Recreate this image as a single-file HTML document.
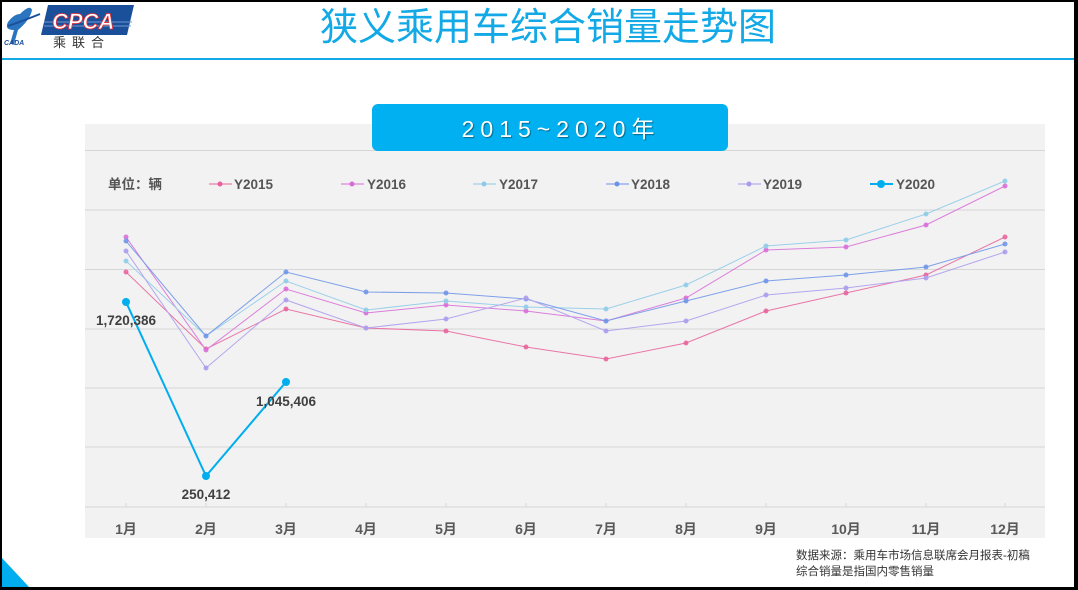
<!DOCTYPE html>
<html><head><meta charset="utf-8"><style>
html,body{margin:0;padding:0;background:#000;}
#p{position:relative;width:1072px;height:585px;left:2px;top:2px;background:#fff;overflow:hidden;font-family:"Liberation Sans","Noto Sans CJK SC",sans-serif;}
</style></head><body><div id="p">
<svg width="1072" height="585" viewBox="2 2 1072 585" xmlns="http://www.w3.org/2000/svg" style="position:absolute;left:0;top:0">
<path d="M20 14 Q30 4 32 10 Q30 20 18 30 L14 44 L10 44 L14 30 Q4 30 8 22 Q14 14 20 14Z" fill="#2a74c0"/>
<path d="M8 26 Q20 22 40 14" stroke="#1a4f9a" stroke-width="2" fill="none"/>
<text x="4" y="45" font-size="7" font-style="italic" font-weight="bold" fill="#1a4f9a">CADA</text>
<path d="M48 5 L134 5 L127 35 L41 35Z" fill="#1a4f9a"/>
<line x1="44" y1="22" x2="132" y2="22" stroke="#6f9ad0" stroke-width="1"/>
<line x1="44" y1="26" x2="131" y2="26" stroke="#6f9ad0" stroke-width="1"/>
<text x="52" y="29" font-size="22" font-style="italic" font-weight="bold" fill="#fff" stroke="#e0303a" stroke-width="0.8">CPCA</text>
<text x="53" y="47" font-size="13" fill="#333" letter-spacing="6">乘联合</text>
<text x="548" y="40" font-size="38" fill="#12a9e6" text-anchor="middle">狭义乘用车综合销量走势图</text>
<rect x="2" y="58" width="1072" height="2" fill="#12a9e6"/>
<rect x="85" y="124" width="960" height="414" fill="#f2f2f2"/>
<g stroke="#d6d6d6" stroke-width="1">
<line x1="85" x2="1045" y1="150.5" y2="150.5"/><line x1="85" x2="1045" y1="210" y2="210"/>
<line x1="85" x2="1045" y1="269.5" y2="269.5"/><line x1="85" x2="1045" y1="329" y2="329"/>
<line x1="85" x2="1045" y1="388" y2="388"/><line x1="85" x2="1045" y1="447" y2="447"/>
<line x1="85" x2="1045" y1="507" y2="507"/>
<path d="M126 507v-4M206 507v-4M286 507v-4M366 507v-4M446 507v-4M526 507v-4M606 507v-4M686 507v-4M766 507v-4M846 507v-4M926 507v-4M1005 507v-4"/>
</g>
<rect x="372" y="104" width="356" height="47" rx="6" fill="#00b0f0"/>
<text x="561" y="137" font-size="23" fill="#fff" text-anchor="middle" letter-spacing="6" style="text-shadow:1px 1px 1px rgba(0,0,0,0.4)">2015~2020年</text>
<g font-size="13.5" font-weight="bold" fill="#555">
<text x="108" y="189">单位：辆</text>
<text x="234" y="189">Y2015</text><text x="367" y="189">Y2016</text><text x="499" y="189">Y2017</text>
<text x="631" y="189">Y2018</text><text x="763" y="189">Y2019</text><text x="896" y="189">Y2020</text>
</g>
<g stroke-width="1">
<line x1="209" x2="232" y1="184" y2="184" stroke="#e8609a"/><circle cx="220" cy="184" r="2.5" fill="#e8609a"/>
<line x1="341" x2="364" y1="184" y2="184" stroke="#d86ad8"/><circle cx="352" cy="184" r="2.5" fill="#d86ad8"/>
<line x1="473" x2="496" y1="184" y2="184" stroke="#8ccbe8"/><circle cx="484" cy="184" r="2.5" fill="#8ccbe8"/>
<line x1="606" x2="629" y1="184" y2="184" stroke="#6a92e8"/><circle cx="617" cy="184" r="2.5" fill="#6a92e8"/>
<line x1="738" x2="761" y1="184" y2="184" stroke="#aa99ee"/><circle cx="749" cy="184" r="2.5" fill="#aa99ee"/>
<line x1="870" x2="893" y1="184" y2="184" stroke="#00aeef" stroke-width="2"/><circle cx="881" cy="184" r="4" fill="#00aeef"/>
</g>
<g fill="none" stroke-width="1" opacity="0.85">
<polyline stroke="#e8609a" points="126,272 206,349 286,309 366,328 446,331 526,347 606,359 686,343 766,311 846,293 926,275 1005,237"/>
<polyline stroke="#d86ad8" points="126,237 206,350 286,289 366,313 446,305 526,311 606,321 686,298 766,250 846,247 926,225 1005,186"/>
<polyline stroke="#8ccbe8" points="126,261 206,336 286,281 366,310 446,301 526,307 606,309 686,285 766,246 846,240 926,214 1005,181"/>
<polyline stroke="#6a92e8" points="126,241 206,336 286,272 366,292 446,293 526,299 606,321 686,301 766,281 846,275 926,267 1005,244"/>
<polyline stroke="#aa99ee" points="126,251 206,368 286,300 366,328 446,319 526,298 606,331 686,321 766,295 846,288 926,278 1005,252"/>
</g>
<g opacity="0.85">
<g fill="#e8609a"><circle cx="126" cy="272" r="2.5"/><circle cx="206" cy="349" r="2.5"/><circle cx="286" cy="309" r="2.5"/><circle cx="366" cy="328" r="2.5"/><circle cx="446" cy="331" r="2.5"/><circle cx="526" cy="347" r="2.5"/><circle cx="606" cy="359" r="2.5"/><circle cx="686" cy="343" r="2.5"/><circle cx="766" cy="311" r="2.5"/><circle cx="846" cy="293" r="2.5"/><circle cx="926" cy="275" r="2.5"/><circle cx="1005" cy="237" r="2.5"/></g>
<g fill="#d86ad8"><circle cx="126" cy="237" r="2.5"/><circle cx="206" cy="350" r="2.5"/><circle cx="286" cy="289" r="2.5"/><circle cx="366" cy="313" r="2.5"/><circle cx="446" cy="305" r="2.5"/><circle cx="526" cy="311" r="2.5"/><circle cx="606" cy="321" r="2.5"/><circle cx="686" cy="298" r="2.5"/><circle cx="766" cy="250" r="2.5"/><circle cx="846" cy="247" r="2.5"/><circle cx="926" cy="225" r="2.5"/><circle cx="1005" cy="186" r="2.5"/></g>
<g fill="#8ccbe8"><circle cx="126" cy="261" r="2.5"/><circle cx="206" cy="336" r="2.5"/><circle cx="286" cy="281" r="2.5"/><circle cx="366" cy="310" r="2.5"/><circle cx="446" cy="301" r="2.5"/><circle cx="526" cy="307" r="2.5"/><circle cx="606" cy="309" r="2.5"/><circle cx="686" cy="285" r="2.5"/><circle cx="766" cy="246" r="2.5"/><circle cx="846" cy="240" r="2.5"/><circle cx="926" cy="214" r="2.5"/><circle cx="1005" cy="181" r="2.5"/></g>
<g fill="#6a92e8"><circle cx="126" cy="241" r="2.5"/><circle cx="206" cy="336" r="2.5"/><circle cx="286" cy="272" r="2.5"/><circle cx="366" cy="292" r="2.5"/><circle cx="446" cy="293" r="2.5"/><circle cx="526" cy="299" r="2.5"/><circle cx="606" cy="321" r="2.5"/><circle cx="686" cy="301" r="2.5"/><circle cx="766" cy="281" r="2.5"/><circle cx="846" cy="275" r="2.5"/><circle cx="926" cy="267" r="2.5"/><circle cx="1005" cy="244" r="2.5"/></g>
<g fill="#aa99ee"><circle cx="126" cy="251" r="2.5"/><circle cx="206" cy="368" r="2.5"/><circle cx="286" cy="300" r="2.5"/><circle cx="366" cy="328" r="2.5"/><circle cx="446" cy="319" r="2.5"/><circle cx="526" cy="298" r="2.5"/><circle cx="606" cy="331" r="2.5"/><circle cx="686" cy="321" r="2.5"/><circle cx="766" cy="295" r="2.5"/><circle cx="846" cy="288" r="2.5"/><circle cx="926" cy="278" r="2.5"/><circle cx="1005" cy="252" r="2.5"/></g>
</g>
<polyline fill="none" stroke="#00aeef" stroke-width="2" points="126,302 206,476 286,382"/>
<g fill="#00aeef"><circle cx="126" cy="302" r="4"/><circle cx="206" cy="476" r="4"/><circle cx="286" cy="382" r="4"/></g>
<g font-size="13.5" font-weight="bold" fill="#404040" text-anchor="middle">
<text x="126" y="325">1,720,386</text><text x="206" y="499">250,412</text><text x="286" y="406">1,045,406</text>
</g>
<g font-size="14" font-weight="bold" fill="#595959" text-anchor="middle">
<text x="126" y="534">1月</text><text x="206" y="534">2月</text><text x="286" y="534">3月</text><text x="366" y="534">4月</text>
<text x="446" y="534">5月</text><text x="526" y="534">6月</text><text x="606" y="534">7月</text><text x="686" y="534">8月</text>
<text x="766" y="534">9月</text><text x="846" y="534">10月</text><text x="926" y="534">11月</text><text x="1005" y="534">12月</text>
</g>
<text x="796" y="559" font-size="11.5" fill="#333">数据来源：乘用车市场信息联席会月报表-初稿</text>
<text x="796" y="575" font-size="11.5" fill="#333">综合销量是指国内零售销量</text>
<path d="M2 558 L30 588 L2 588Z" fill="#00aeef"/>
</svg>
</div></body></html>
